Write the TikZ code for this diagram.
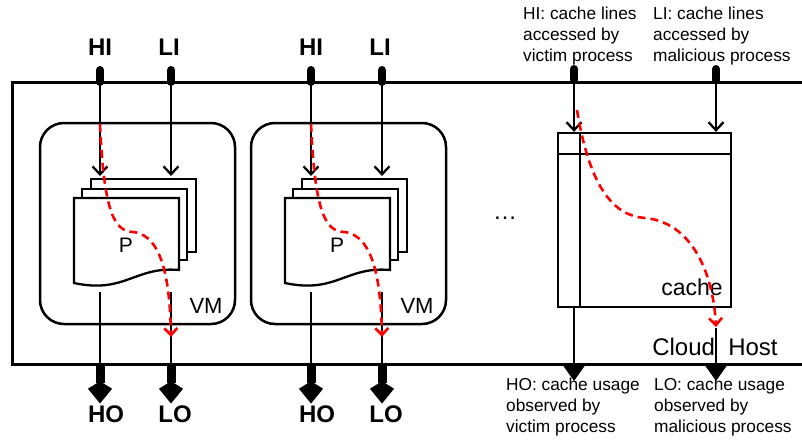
\documentclass[tikz,border=0pt]{standalone}
\usepackage{fontspec}
\setmainfont{Liberation Sans}
\usetikzlibrary{arrows.meta,positioning}

\begin{document}
\begin{tikzpicture}[
    x=1pt, y=-1pt,
    line width=2.3pt,
    io/.style={font=\fontsize{24}{28}\selectfont\bfseries, inner sep=0pt},
    note/.style={font=\fontsize{17.3}{20.7}\selectfont, align=left, anchor=west, inner sep=0pt},
    lbl/.style={font=\fontsize{22}{26}\selectfont, inner sep=0pt},
    vmbox/.style={draw, rounded corners=24pt, minimum width=195pt, minimum height=201pt, inner sep=0pt, line width=2.5pt},
    page/.style={draw, fill=white},
    flow/.style={-{Straight Barb[length=8pt,width=15pt]}},
    stub/.style={line width=8pt, line cap=round},
    outflow/.style={line width=9pt, -{Stealth[length=15pt,width=21pt,inset=-8pt]}},
    outtri/.style={-{Triangle[length=16pt,width=22pt]}},
    leak/.style={draw=red, dash pattern=on 8pt off 5pt, line width=2.6pt, -{Straight Barb[length=7pt,width=13pt]}}
]
\useasboundingbox (0,0) rectangle (802,442);
% cloud host
\draw[line width=3pt] (806,82) -- (12,82) -- (12,364) -- (806,364);
% two VMs
\foreach \i/\dx in {1/0, 2/211} {
  \begin{scope}[xshift=\dx pt]
    \node[vmbox] (vm\i) at (137.5,223.5) {};
    \draw[page] (91,179) rectangle (196,252);
    \draw[page] (82,189) rectangle (187,260);
    \draw[page] (74,198) -- (179,198) -- (179,270) .. controls (135,266) and (125,294) .. (74,283) -- cycle;
    \node[lbl, font=\fontsize{21}{25}\selectfont] (p\i) at (126,245) {P};
    \node[lbl] (vml\i) at (206,306) {VM};
    \node[io] (hi\i) at (100,47) {HI};
    \node[io] (li\i) at (169,47) {LI};
    \node[io] (ho\i) at (106,414) {HO};
    \node[io] (lo\i) at (175,414) {LO};
    \coordinate (hin\i) at (100,70);
    \coordinate (lin\i) at (171,70);
    \coordinate (hit\i) at (100,176);
    \coordinate (lit\i) at (171,176);
    \coordinate (hos\i) at (100,292);
    \coordinate (los\i) at (171,292);
    \coordinate (hob\i) at (100,364);
    \coordinate (lob\i) at (171,364);
    \coordinate (hoe\i) at (100,404);
    \coordinate (loe\i) at (171,404);
    \draw[stub] (hin\i) -- (100,82);
    \draw[stub] (lin\i) -- (171,82);
    \draw[flow] (hin\i) -- (hit\i);
    \draw[flow] (lin\i) -- (lit\i);
    \draw (hos\i) -- (hob\i);
    \draw (los\i) -- (lob\i);
    \draw[outflow] (hob\i) -- (hoe\i);
    \draw[outflow] (lob\i) -- (loe\i);
    \draw[leak] (100,124) .. controls (104,215) and (115,231) .. (133,232) .. controls (165,235) and (170,290) .. (171,337);
  \end{scope}
}
\node[font=\fontsize{24}{28}\selectfont] (more) at (505,218) {\ldots};
% shared cache
\node[draw, minimum width=173pt, minimum height=174pt, inner sep=0pt] (cache) at (644.5,220) {};
\draw (558,154) -- (731,154);
\draw (580,133) -- (580,307);
\node[lbl, font=\fontsize{23}{27}\selectfont] (cachelbl) at (692,287) {cache};
\node[lbl, font=\fontsize{24}{28}\selectfont] (host) at (715,347) {Cloud\ \ Host};
\coordinate (chin) at (574,69);
\coordinate (clin) at (716,69);
\draw[stub] (chin) -- (574,80);
\draw[stub] (clin) -- (716,80);
\draw[flow] (chin) -- (cache.north -| chin);
\draw[flow] (clin) -- (cache.north -| clin);
\coordinate (chout) at (574,381);
\coordinate (clout) at (716,381);
\draw[outtri] (cache.south -| chout) -- (chout);
\draw[outtri] (716,328) -- (clout);
\draw[leak] (577,110) .. controls (590,190) and (615,216) .. (645,218) .. controls (690,222) and (713,270) .. (716,327);
\node[note] (hinote) at (522,36) {HI: cache lines\\accessed by\\victim process};
\node[note] (linote) at (652,36) {LI: cache lines\\accessed by\\malicious process};
\node[note] (honote) at (505,407) {HO: cache usage\\observed by\\victim process};
\node[note] (lonote) at (653,407) {LO: cache usage\\observed by\\malicious process};
\end{tikzpicture}
\end{document}
